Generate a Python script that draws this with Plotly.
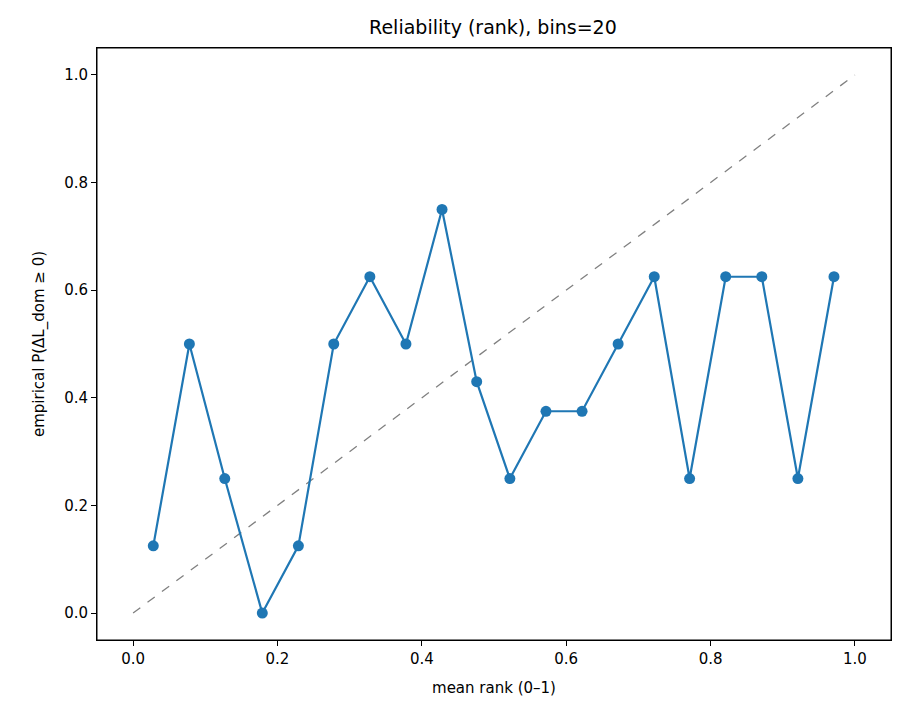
import plotly.graph_objects as go

# mean rank per bin and empirical probability
mean_rank = [0.028, 0.078, 0.127, 0.179, 0.229, 0.278, 0.328, 0.378, 0.428, 0.476,
             0.522, 0.572, 0.622, 0.672, 0.722, 0.771, 0.821, 0.871, 0.921, 0.971]
emp_prob = [0.125, 0.5, 0.25, 0.0, 0.125, 0.5, 0.625, 0.5, 0.75, 0.43,
            0.25, 0.375, 0.375, 0.5, 0.625, 0.25, 0.625, 0.625, 0.25, 0.625]
diag = [0.0, 1.0]
ticks = [0.0, 0.2, 0.4, 0.6, 0.8, 1.0]

fig = go.Figure()

fig.add_trace(go.Scatter(
    x=diag, y=diag, mode='lines',
    line=dict(color='grey', width=1.3, dash='dash'),
    showlegend=False
))

fig.add_trace(go.Scatter(
    x=mean_rank, y=emp_prob, mode='lines+markers',
    line=dict(color='#1f77b4', width=2.2),
    marker=dict(color='#1f77b4', size=11),
    showlegend=False
))

axis_style = dict(
    showgrid=False, zeroline=False, showline=True, mirror=True,
    linecolor='black', linewidth=1, ticks='outside', ticklen=5,
    tickcolor='black', range=[-0.05, 1.05], tickvals=ticks,
    ticktext=[f'{t:.1f}' for t in ticks],
    tickfont=dict(size=15, color='black')
)

# full frame around the plot area
fig.add_shape(type='rect', xref='paper', yref='paper', x0=0, y0=0, x1=1, y1=1,
              line=dict(color='black', width=1))

fig.update_layout(
    width=898, height=713,
    paper_bgcolor='white', plot_bgcolor='white',
    font=dict(family='DejaVu Sans', color='black'),
    title=dict(text='Reliability (rank), bins=20', x=0.54, xanchor='center',
               y=0.973, yanchor='middle', font=dict(size=19)),
    margin=dict(l=89, r=15, t=40, b=81),
    xaxis=dict(axis_style, title=dict(text='mean rank (0–1)', font=dict(size=15))),
    yaxis=dict(axis_style, title=dict(text='empirical P(ΔL_dom ≥ 0)', font=dict(size=15))),
)

fig.write_html("out.html")
